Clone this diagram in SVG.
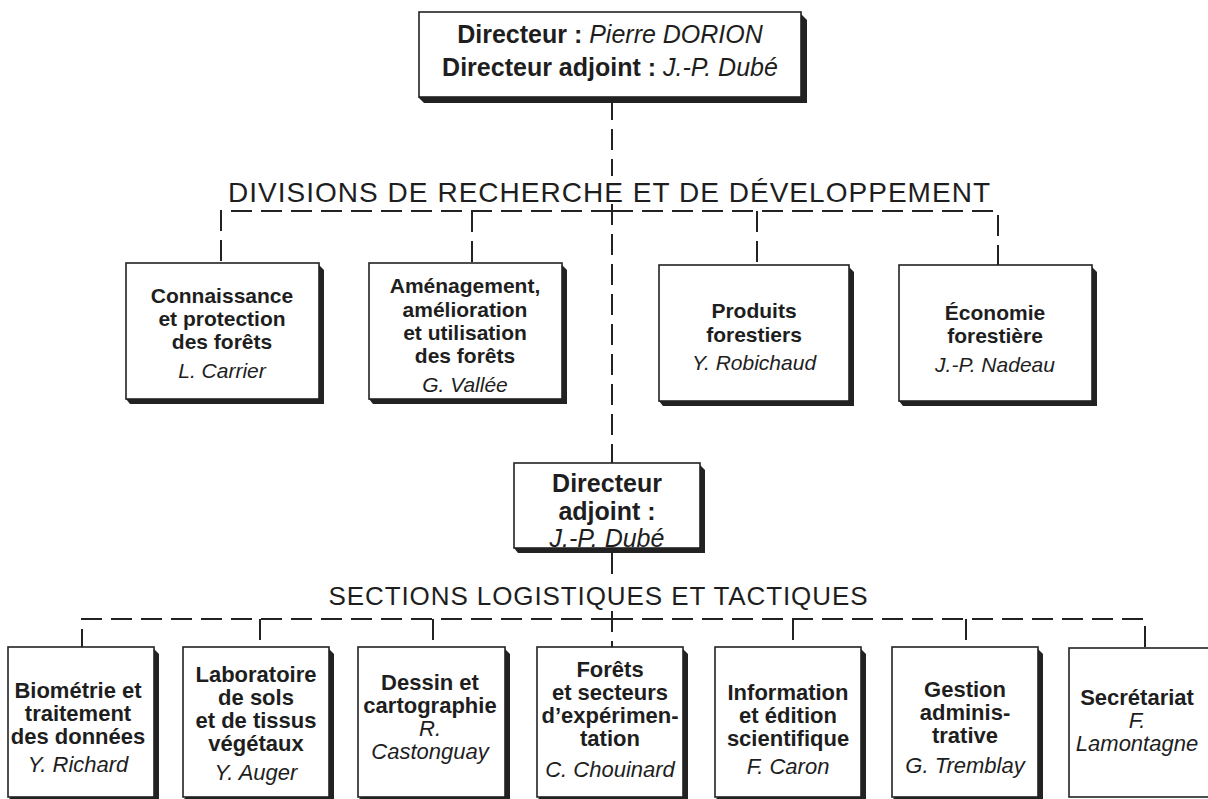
<svg xmlns="http://www.w3.org/2000/svg" width="1208" height="799" viewBox="0 0 1208 799">
<style>
.bg{fill:#fff}
.box{fill:#fff;stroke:#222;stroke-width:1.6}
.sh{fill:#222}
.dash{fill:none;stroke:#222;stroke-width:2;stroke-dasharray:21 9}
.t{font-family:"Liberation Sans",Arial,sans-serif;fill:#1e1e1e;text-anchor:middle}
.b{font-weight:bold}
.i{font-style:italic}
.s21{font-size:21px}
.s22{font-size:22px}
.s25{font-size:25px}
.title{font-family:"Liberation Sans",Arial,sans-serif;fill:#1e1e1e;font-size:28px}
</style>
<rect class="bg" x="0" y="0" width="1208" height="799"/>

<g id="connectors">
  <path class="dash" d="M612 99 V176"/>
  <path class="dash" d="M612 204 V463"/>
  <path class="dash" d="M612 553 V576"/>
  <path class="dash" d="M612 611 V647"/>
  <path class="dash" d="M612 211 H221 V263"/>
  <path class="dash" d="M612 211 H998 V265"/>
  <path class="dash" d="M472 211 V263"/>
  <path class="dash" d="M757 211 V265"/>
  <path class="dash" d="M612 619 H82 V647"/>
  <path class="dash" d="M612 619 H1145 V648"/>
  <path class="dash" d="M260 619 V647"/>
  <path class="dash" d="M433 619 V647"/>
  <path class="dash" d="M793 619 V647"/>
  <path class="dash" d="M966 619 V647"/>
</g>

<text class="title" x="609" y="202" text-anchor="middle" textLength="762" lengthAdjust="spacing">DIVISIONS DE RECHERCHE ET DE DÉVELOPPEMENT</text>
<text class="title" x="598" y="605" text-anchor="middle" textLength="539" lengthAdjust="spacing" style="font-size:26px">SECTIONS LOGISTIQUES ET TACTIQUES</text>

<g id="directeur">
  <polygon class="sh" points="801,14 807,20 807,103 424,103 418,97"/>
  <rect class="box" x="419" y="12" width="382" height="85"/>
  <text class="t s25" x="610" y="43"><tspan class="b">Directeur : </tspan><tspan class="i">Pierre DORION</tspan></text>
  <text class="t s25" x="610" y="76"><tspan class="b">Directeur adjoint : </tspan><tspan class="i">J.-P. Dubé</tspan></text>
</g>

<g id="div1">
  <polygon class="sh" points="319,265 324,270 324,404 130,404 126,399"/>
  <rect class="box" x="126" y="263" width="193" height="136"/>
  <text class="t b s21" x="222" y="303">Connaissance</text>
  <text class="t b s21" x="222" y="326">et protection</text>
  <text class="t b s21" x="222" y="349">des forêts</text>
  <text class="t i s21" x="222" y="378">L. Carrier</text>
</g>
<g id="div2">
  <polygon class="sh" points="562,265 567,270 567,404 373,404 369,399"/>
  <rect class="box" x="369" y="263" width="193" height="136"/>
  <text class="t b s21" x="465" y="293">Aménagement,</text>
  <text class="t b s21" x="465" y="317">amélioration</text>
  <text class="t b s21" x="465" y="340">et utilisation</text>
  <text class="t b s21" x="465" y="363">des forêts</text>
  <text class="t i s21" x="465" y="392">G. Vallée</text>
</g>
<g id="div3">
  <polygon class="sh" points="849,267 854,272 854,406 663,406 659,401"/>
  <rect class="box" x="659" y="265" width="190" height="136"/>
  <text class="t b s21" x="754" y="318">Produits</text>
  <text class="t b s21" x="754" y="342">forestiers</text>
  <text class="t i s21" x="754" y="370">Y. Robichaud</text>
</g>
<g id="div4">
  <polygon class="sh" points="1092,267 1097,272 1097,406 903,406 899,401"/>
  <rect class="box" x="899" y="265" width="193" height="136"/>
  <text class="t b s21" x="995" y="320">Économie</text>
  <text class="t b s21" x="995" y="343">forestière</text>
  <text class="t i s21" x="995" y="372">J.-P. Nadeau</text>
</g>

<g id="adjoint">
  <polygon class="sh" points="700,465 705,470 705,553 518,553 514,548"/>
  <rect class="box" x="514" y="463" width="186" height="85"/>
  <text class="t b s25" x="607" y="492">Directeur</text>
  <text class="t b s25" x="607" y="520">adjoint :</text>
  <text class="t i s25" x="607" y="547">J.-P. Dubé</text>
</g>

<g id="sec1">
  <polygon class="sh" points="154,649 159,654 159,805 12,805 8,800"/>
  <rect class="box" x="8" y="647" width="146" height="150"/>
  <text class="t b s22" x="78" y="698">Biométrie et</text>
  <text class="t b s22" x="78" y="721">traitement</text>
  <text class="t b s22" x="78" y="744">des données</text>
  <text class="t i s22" x="78" y="772">Y. Richard</text>
</g>
<g id="sec2">
  <polygon class="sh" points="329,649 334,654 334,805 187,805 183,800"/>
  <rect class="box" x="183" y="647" width="146" height="150"/>
  <text class="t b s22" x="256" y="682">Laboratoire</text>
  <text class="t b s22" x="256" y="705">de sols</text>
  <text class="t b s22" x="256" y="728">et de tissus</text>
  <text class="t b s22" x="256" y="751">végétaux</text>
  <text class="t i s22" x="256" y="780">Y. Auger</text>
</g>
<g id="sec3">
  <polygon class="sh" points="505,649 510,654 510,805 362,805 358,800"/>
  <rect class="box" x="358" y="647" width="147" height="150"/>
  <text class="t b s22" x="430" y="690">Dessin et</text>
  <text class="t b s22" x="430" y="713">cartographie</text>
  <text class="t i s22" x="430" y="736">R.</text>
  <text class="t i s22" x="430" y="759">Castonguay</text>
</g>
<g id="sec4">
  <polygon class="sh" points="683,649 688,654 688,805 541,805 537,800"/>
  <rect class="box" x="537" y="647" width="146" height="150"/>
  <text class="t b s22" x="610" y="677">Forêts</text>
  <text class="t b s22" x="610" y="700">et secteurs</text>
  <text class="t b s22" x="610" y="723">d’expérimen-</text>
  <text class="t b s22" x="610" y="746">tation</text>
  <text class="t i s22" x="610" y="777">C. Chouinard</text>
</g>
<g id="sec5">
  <polygon class="sh" points="861,649 866,654 866,805 719,805 715,800"/>
  <rect class="box" x="715" y="647" width="146" height="150"/>
  <text class="t b s22" x="788" y="700">Information</text>
  <text class="t b s22" x="788" y="723">et édition</text>
  <text class="t b s22" x="788" y="746">scientifique</text>
  <text class="t i s22" x="788" y="774">F. Caron</text>
</g>
<g id="sec6">
  <polygon class="sh" points="1038,649 1043,654 1043,805 896,805 892,800"/>
  <rect class="box" x="892" y="647" width="146" height="150"/>
  <text class="t b s22" x="965" y="697">Gestion</text>
  <text class="t b s22" x="965" y="720">adminis-</text>
  <text class="t b s22" x="965" y="743">trative</text>
  <text class="t i s22" x="965" y="773">G. Tremblay</text>
</g>
<g id="sec7">
  <rect class="box" x="1069" y="648" width="150" height="149"/>
  <text class="t b s22" x="1137" y="705">Secrétariat</text>
  <text class="t i s22" x="1137" y="728">F.</text>
  <text class="t i s22" x="1137" y="751">Lamontagne</text>
</g>
</svg>
